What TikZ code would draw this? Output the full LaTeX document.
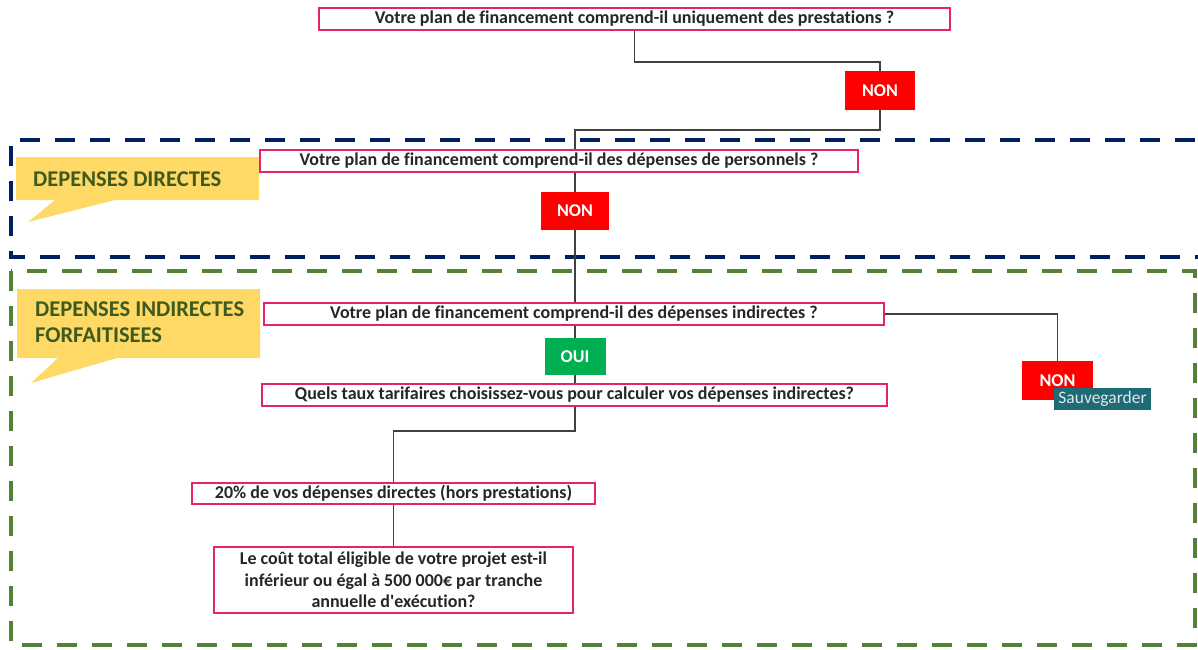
\documentclass[tikz,border=0pt]{standalone}
\usepackage{fontspec}
\setmainfont{Carlito}[Ligatures={TeXOff,CommonOff}]
\usetikzlibrary{calc}
\definecolor{boxpink}{RGB}{230,36,110}
\definecolor{dblue}{RGB}{0,32,96}
\definecolor{dgreen}{RGB}{84,130,53}
\definecolor{callout}{RGB}{255,217,102}
\definecolor{callouttext}{RGB}{62,90,30}
\definecolor{nonred}{RGB}{255,0,0}
\definecolor{ouigreen}{RGB}{0,176,80}
\definecolor{teal}{RGB}{31,107,117}
\definecolor{conn}{RGB}{64,64,64}
\tikzset{
  qbox/.style={draw=boxpink, line width=1.4pt, fill=white, inner sep=0pt, align=center,
    font=\fontsize{18}{21.5}\selectfont\bfseries, text=black!85},
  ansbox/.style={inner sep=0pt, font=\fontsize{18}{21}\selectfont\bfseries, text=white,
    minimum width=#1},
  conline/.style={draw=conn, line width=1.8pt},
  zone/.style={line width=3.5pt, dash pattern=on 20pt off 15pt},
  calltext/.style={font=\fontsize{22.5}{26}\selectfont\bfseries, text=callouttext, anchor=west, align=left, inner sep=0pt}
}
\begin{document}
\begin{tikzpicture}[x=1pt,y=-1pt]
\useasboundingbox (0,0) rectangle (1198,649);
% zones
\draw[zone, dblue] (1230,140) -- (11,140) -- (11,257) -- (1230,257);
\draw[zone, dgreen] (11,271) rectangle (1195,645);
% callouts
\fill[callout] (16,157) -- (259,157) -- (259,200) -- (115,200) -- (28,222) -- (55,200) -- (16,200) -- cycle;
\node[calltext] (c1) at (33,179) {DEPENSES DIRECTES};
\fill[callout] (17,289) -- (260,289) -- (260,358) -- (117,358) -- (31,383) -- (58,358) -- (17,358) -- cycle;
\node[calltext] (c2) at (35,322) {DEPENSES INDIRECTES\\FORFAITISEES};
% question boxes
\node[qbox, minimum width=631pt, minimum height=22pt] (b1) at (634.5,19) {Votre plan de financement comprend-il uniquement des prestations ?};
\node[qbox, minimum width=598pt, minimum height=22pt] (b2) at (559,161) {Votre plan de financement comprend-il des dépenses de personnels ?};
\node[qbox, minimum width=620pt, minimum height=22pt] (b3) at (574,314) {Votre plan de financement comprend-il des dépenses indirectes ?};
\node[qbox, minimum width=625pt, minimum height=22pt] (b4) at (574.5,395) {Quels taux tarifaires choisissez-vous pour calculer vos dépenses indirectes?};
\node[qbox, minimum width=403pt, minimum height=21pt] (b5) at (393.5,493.5) {20\% de vos dépenses directes (hors prestations)};
\node[qbox, minimum width=359pt, minimum height=66pt] (b6) at (393.5,580) {Le coût total éligible de votre projet est-il\\inférieur ou égal à 500 000€ par tranche\\annuelle d'exécution?};
% answer boxes
\node[ansbox=70pt, fill=nonred, minimum height=39pt] (n1) at (880,90.5) {NON};
\node[ansbox=68pt, fill=nonred, minimum height=38pt] (n2) at (575,211) {NON};
\node[ansbox=61pt, fill=ouigreen, minimum height=37pt] (oui) at (575,356.5) {OUI};
\node[ansbox=71pt, fill=nonred, minimum height=39pt] (n3) at (1057.5,380.5) {NON};
\node[fill=teal, inner sep=0pt, minimum width=97pt, minimum height=22pt, text=white!85!teal, font=\fontsize{17.5}{20}\selectfont] (sv) at (1102.5,399) {Sauvegarder};
% connectors
\coordinate (j1) at (575,130);
\draw[conline] (b1.south) -- ++(0,31) -| (n1.north);
\draw[conline] (n1.south) |- (j1) -- (j1 |- b2.north);
\draw[conline] (b2.south -| n2.north) -- (n2.north);
\draw[conline] (n2.south) -- (n2.south |- b3.north);
\draw[conline] (b3.south -| oui.north) -- (oui.north);
\draw[conline] (oui.south) -- (oui.south |- b4.north);
\draw[conline] (b3.east) -| (n3.north);
\draw[conline] (b4.south -| oui.north) -- ++(0,24) -| (b5.north);
\draw[conline] (b5.south) -- (b6.north);
\end{tikzpicture}
\end{document}
